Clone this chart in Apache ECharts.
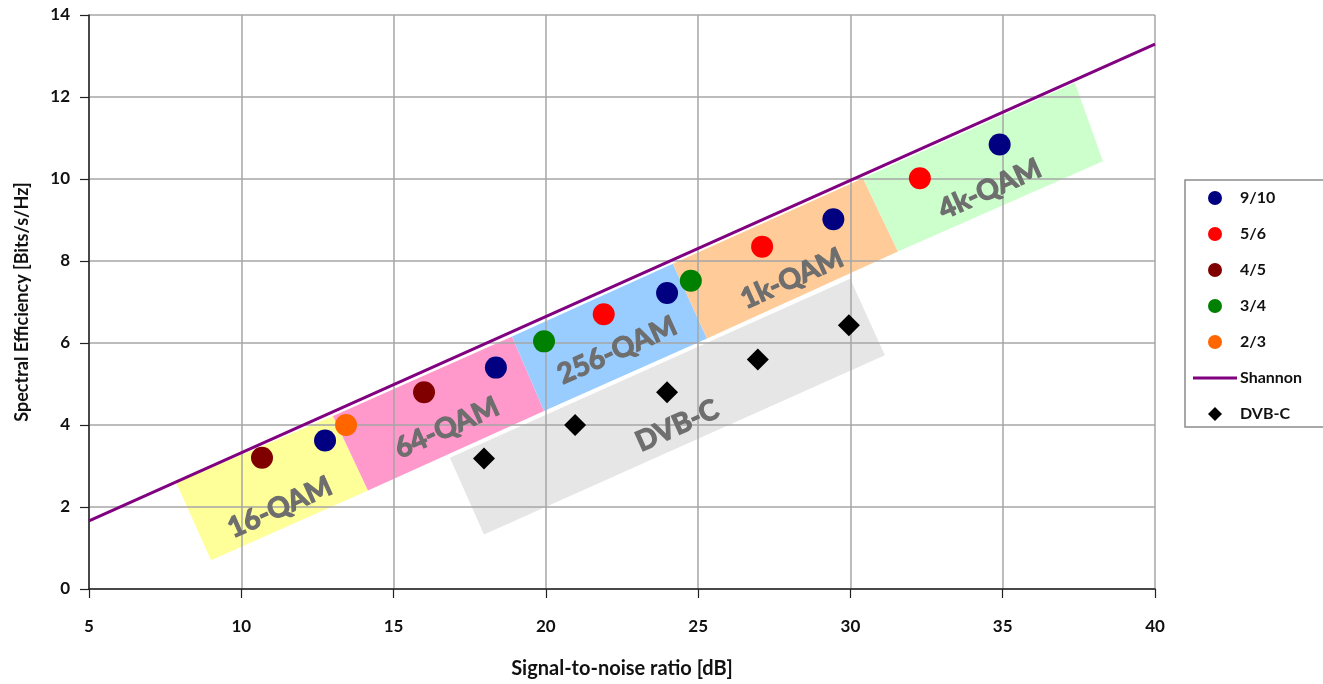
<!DOCTYPE html>
<html><head><meta charset="utf-8">
<script src="https://cdn.jsdelivr.net/npm/echarts@6/dist/echarts.min.js"></script>
<style>html,body{margin:0;padding:0;background:#fff;overflow:hidden}#c{width:1323px;height:684px}</style>
</head><body><div id="c"></div>
<script>
// ---- data ----
const xTicks = [5, 10, 15, 20, 25, 30, 35, 40];
const yTicks = [0, 2, 4, 6, 8, 10, 12, 14];
const rate910 = [[12.75, 3.62], [18.36, 5.40], [23.98, 7.22], [29.44, 9.02], [34.9, 10.84]];
const rate56 = [[21.9, 6.70], [27.1, 8.35], [32.28, 10.02]];
const rate45 = [[10.68, 3.20], [16.0, 4.80]];
const rate34 = [[19.94, 6.04], [24.76, 7.52]];
const rate23 = [[13.44, 4.00]];
const shannon = [[5, 1.66], [40, 13.29]];
const dvbc = [[17.97, 3.18], [20.96, 4.00], [23.98, 4.80], [26.96, 5.60], [29.95, 6.43]];
// band corners (TL, TR, BR, BL) in data units
const bandNames = ['16-QAM', '64-QAM', '256-QAM', '1k-QAM', '4k-QAM', 'DVB-C'];
const bandCorners = [
  [7.86, 2.60, 13.01, 4.22, 14.16, 2.40, 9.01, 0.70],
  [13.01, 4.22, 18.89, 6.16, 19.94, 4.34, 14.16, 2.40],
  [18.89, 6.16, 24.17, 7.93, 25.29, 6.11, 19.94, 4.34],
  [24.17, 7.93, 30.41, 10.02, 31.56, 8.23, 25.29, 6.11],
  [30.41, 10.02, 37.37, 12.35, 38.29, 10.43, 31.56, 8.23],
  [16.85, 3.20, 29.99, 7.57, 31.13, 5.70, 17.97, 1.33]
];
const bandLabelPos = [[11.27, 1.99], [16.75, 3.93], [22.34, 5.82], [28.08, 7.57], [34.58, 9.75], [24.31, 3.98]];

// ---- styles ----
const bandColors = ['#ffff99', '#ff99cc', '#99ccff', '#ffcc99', '#ccffcc', '#e6e6e6'];
const FONT = 'Lato, "Open Sans", sans-serif';

const chart = echarts.init(document.getElementById('c'), null, {renderer: 'canvas', width: 1323, height: 684});

const bandData = bandCorners.map((c, i) => c.concat([i]));
const labelData = bandLabelPos.map((p, i) => p.concat([i]));

function angleOf(api) {
  const a = api.coord(shannon[0]);
  const b = api.coord(shannon[1]);
  return Math.atan2(-(b[1] - a[1]), b[0] - a[0]);
}

const option = {
  animation: false,
  backgroundColor: '#fff',
  grid: {left: 89, right: 168, top: 15, bottom: 92, containLabel: false},
  xAxis: {
    type: 'value', min: 5, max: 40, interval: 5,
    name: 'Signal-to-noise ratio [dB]', nameLocation: 'middle', nameGap: 70,
    nameTextStyle: {fontFamily: FONT, fontSize: 20, color: '#111', fontWeight: 'bold'},
    axisLine: {show: true, onZero: false, lineStyle: {color: '#222', width: 1.5}},
    axisTick: {show: true, inside: false, length: 9, lineStyle: {color: '#222', width: 1.2}},
    axisLabel: {fontFamily: FONT, fontSize: 17, fontWeight: 'bold', color: '#111', margin: 29},
    splitLine: {show: true, lineStyle: {color: '#a6a6a6', width: 1.5}}
  },
  yAxis: {
    type: 'value', min: 0, max: 14, interval: 2,
    name: 'Spectral Efficiency [Bits/s/Hz]', nameLocation: 'middle', nameGap: 58,
    nameTextStyle: {fontFamily: FONT, fontSize: 18, color: '#111', fontWeight: 'bold'},
    axisLine: {show: true, onZero: false, lineStyle: {color: '#222', width: 1.5}},
    axisTick: {show: true, inside: false, length: 9, lineStyle: {color: '#222', width: 1.2}},
    axisLabel: {fontFamily: FONT, fontSize: 17, fontWeight: 'bold', color: '#111', margin: 19},
    splitLine: {show: true, lineStyle: {color: '#a6a6a6', width: 1.5}}
  },
  legend: {
    orient: 'vertical', left: 1185, top: 180,
    padding: [10, 60, 5, 8],
    borderColor: '#8c8c8c', borderWidth: 1.5,
    itemWidth: 44, itemHeight: 14, itemGap: 20,
    textStyle: {fontFamily: FONT, fontSize: 16, fontWeight: 'bold', color: '#111', padding: [0, 0, 0, -2]},
    data: [
      {name: '9/10', icon: 'circle'},
      {name: '5/6', icon: 'circle'},
      {name: '4/5', icon: 'circle'},
      {name: '3/4', icon: 'circle'},
      {name: '2/3', icon: 'circle'},
      {name: 'Shannon', icon: 'path://M0,0 L44,0 L44,3 L0,3 Z'},
      {name: 'DVB-C', icon: 'path://M0,-1 L1,0 L0,1 L-1,0 Z'}
    ]
  },
  series: [
    {
      type: 'custom', name: 'bands', z: -5, silent: true,
      data: bandData,
      renderItem: function (params, api) {
        const pts = [];
        for (let k = 0; k < 4; k++) pts.push(api.coord([api.value(2 * k), api.value(2 * k + 1)]));
        return {type: 'polygon', shape: {points: pts}, style: {fill: bandColors[api.value(8)]}};
      }
    },
    {
      type: 'custom', name: 'bandLabels', z: 1, silent: true,
      data: labelData,
      renderItem: function (params, api) {
        const p = api.coord([api.value(0), api.value(1)]);
        return {
          type: 'text', x: p[0], y: p[1], rotation: angleOf(api),
          style: {text: bandNames[api.value(2)], fill: '#6e6e6e', stroke: '#6e6e6e', lineWidth: 1.2,
            font: 'bold 28px ' + FONT, align: 'center', verticalAlign: 'middle'}
        };
      }
    },
    {type: 'line', name: 'Shannon', data: shannon, symbol: 'none', z: 3,
      lineStyle: {color: '#800080', width: 3}, itemStyle: {color: '#800080'}},
    {type: 'scatter', name: '9/10', data: rate910, symbol: 'circle', symbolSize: 22, itemStyle: {color: '#000080', opacity: 1}, z: 4},
    {type: 'scatter', name: '5/6', data: rate56, symbol: 'circle', symbolSize: 22, itemStyle: {color: '#ff0000', opacity: 1}, z: 4},
    {type: 'scatter', name: '4/5', data: rate45, symbol: 'circle', symbolSize: 22, itemStyle: {color: '#800000', opacity: 1}, z: 4},
    {type: 'scatter', name: '3/4', data: rate34, symbol: 'circle', symbolSize: 22, itemStyle: {color: '#008000', opacity: 1}, z: 4},
    {type: 'scatter', name: '2/3', data: rate23, symbol: 'circle', symbolSize: 22, itemStyle: {color: '#ff6600', opacity: 1}, z: 4},
    {type: 'scatter', name: 'DVB-C', data: dvbc, symbol: 'diamond', symbolSize: [22, 22], itemStyle: {color: '#000000', opacity: 1}, z: 4}
  ]
};
chart.setOption(option);
</script>
</body></html>
